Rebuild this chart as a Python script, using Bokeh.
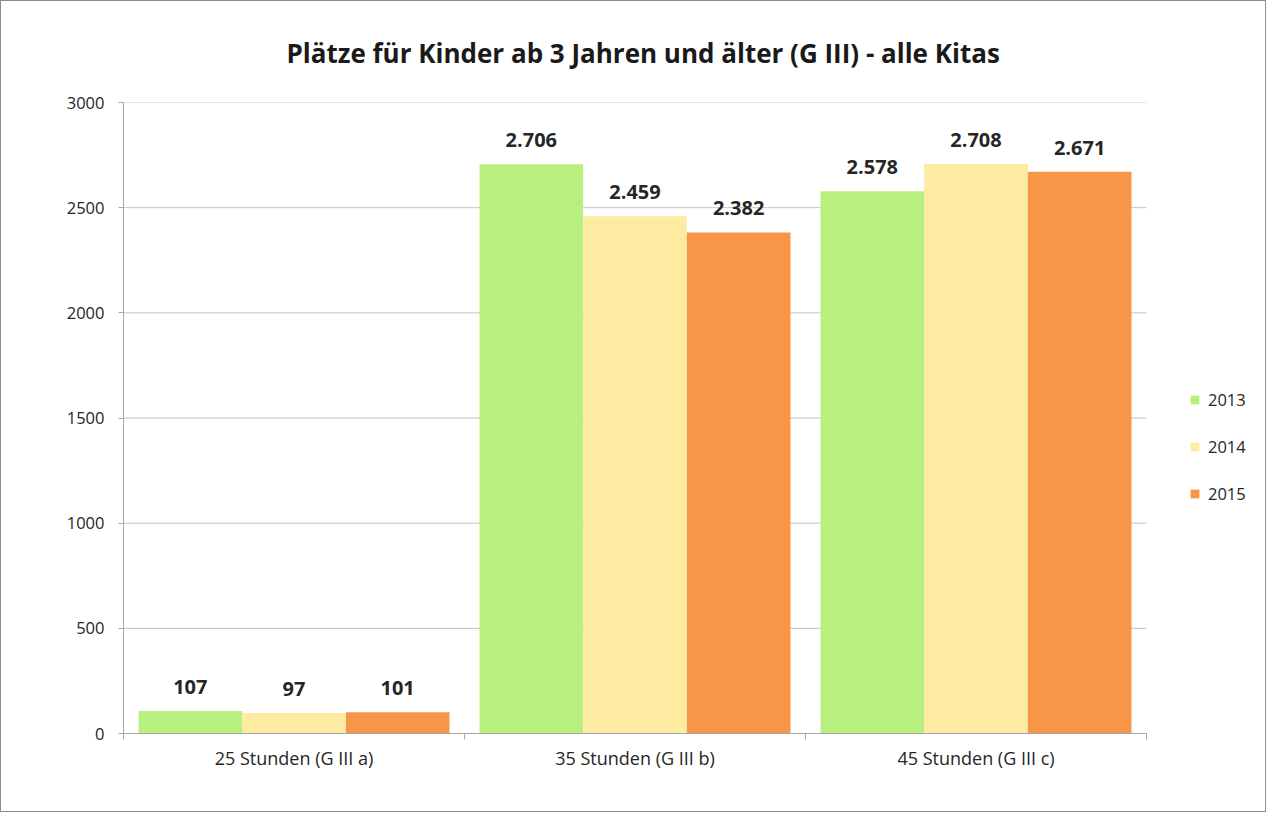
from bokeh.plotting import figure
from bokeh.models import (ColumnDataSource, FixedTicker, Legend, LegendItem,
                          LabelSet, Range1d)
from bokeh.core.properties import value
from bokeh.embed import file_html
from bokeh.resources import INLINE

title_text = "Plätze für Kinder ab 3 Jahren und älter (G III) - alle Kitas"
categories = ["25 Stunden (G III a)", "35 Stunden (G III b)", "45 Stunden (G III c)"]
years = ["2013", "2014", "2015"]
v2013 = [107, 2706, 2578]
v2014 = [97, 2459, 2708]
v2015 = [101, 2382, 2671]
series = [v2013, v2014, v2015]
colors = ["#B7F07E", "#FCEBA1", "#F79646"]
y_ticks = [0, 500, 1000, 1500, 2000, 2500, 3000]

FONT = "Open Sans"
TXT = "#262626"

W, H = 1266, 812
LEFT, RIGHT, TOP, BOTTOM = 122, 10, 101, 80
AXIS_PX = 1023  # pixel width of the category axis
n = len(categories)
x_end = n * (W - LEFT - RIGHT) / AXIS_PX  # frame extends to hold the legend

p = figure(width=W, height=H, x_range=Range1d(0, x_end),
           y_range=Range1d(0, 3000), output_backend="svg", toolbar_location=None,
           min_border_left=LEFT, min_border_right=RIGHT, min_border_top=TOP,
           min_border_bottom=BOTTOM, title=title_text)
p.outline_line_color = None
p.styles = {"border": "1px solid #8c8c8c"}

p.title.align = "left"
p.title.vertical_align = "top"
p.title.text_font = FONT
p.title.text_font_style = "bold"
p.title.text_font_size = "26px"
p.title.text_color = "#1a1a1a"
p.title.offset = 163
p.title.standoff = 60

# horizontal grid lines spanning only the category area
p.segment(x0=[0] * len(y_ticks[1:]), x1=[n] * len(y_ticks[1:]),
          y0=y_ticks[1:], y1=y_ticks[1:], line_color="#c4c4c4", line_width=1)

bw = 0.304
items = []
for j, (yr, vals, col) in enumerate(zip(years, series, colors)):
    xs = [i + 0.5 + (j - 1) * bw for i in range(n)]
    src = ColumnDataSource(dict(x=xs, top=vals,
                                lbl=[f"{v:,}".replace(",", ".") for v in vals]))
    r = p.vbar(x="x", top="top", width=bw, source=src, fill_color=col,
               line_color=None)
    items.append(LegendItem(label=yr, renderers=[r]))
    p.add_layout(LabelSet(x="x", y="top", text="lbl", source=src,
                          text_align="center", text_baseline="middle",
                          y_offset=24, text_font=value(FONT),
                          text_font_style="bold",
                          text_font_size="20px", text_color=TXT))

# y axis
p.yaxis.ticker = FixedTicker(ticks=y_ticks)
p.yaxis.axis_line_color = "#a6a6a6"
p.yaxis.major_tick_line_color = "#a6a6a6"
p.yaxis.major_tick_out = 5
p.yaxis.major_tick_in = 0
p.yaxis.minor_tick_line_color = None
p.yaxis.major_label_text_font = FONT
p.yaxis.major_label_text_font_size = "16.5px"
p.yaxis.major_label_text_color = TXT
p.yaxis.major_label_standoff = 14

# x axis: labels at centers, tick marks at category boundaries
centers = [i + 0.5 for i in range(n)]
bounds = [i for i in range(n + 1)]
p.xaxis.ticker = FixedTicker(ticks=centers, minor_ticks=bounds)
p.xaxis.bounds = (0, n)
p.xaxis.major_label_overrides = {c: lab for c, lab in zip(centers, categories)}
p.xaxis.axis_line_color = "#a6a6a6"
p.xaxis.major_tick_line_color = None
p.xaxis.minor_tick_line_color = "#a6a6a6"
p.xaxis.minor_tick_out = 6
p.xaxis.minor_tick_in = 0
p.xaxis.major_label_text_font = FONT
p.xaxis.major_label_text_font_size = "18px"
p.xaxis.major_label_text_color = TXT
p.xaxis.major_label_standoff = 6

p.xgrid.grid_line_color = None
p.ygrid.grid_line_color = None

legend = Legend(items=items, location=(1066, 228), orientation="vertical",
                glyph_width=11, glyph_height=11, label_standoff=8,
                spacing=24, padding=0, margin=0,
                label_text_font=FONT, label_text_font_size="16.5px",
                label_text_color=TXT, border_line_color=None,
                background_fill_alpha=0)
p.add_layout(legend, "center")

open("out.html", "w").write(file_html(p, INLINE))
